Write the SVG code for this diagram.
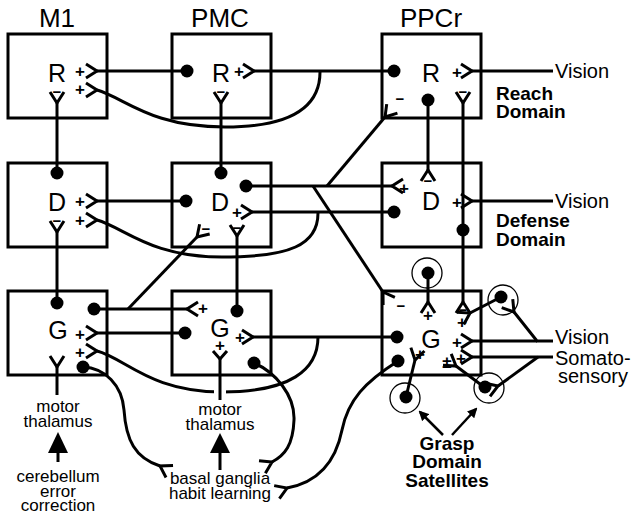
<svg xmlns="http://www.w3.org/2000/svg" width="641" height="519" viewBox="0 0 641 519">
<style>
.bx{fill:none;stroke:#000;stroke-width:3}
.ln{fill:none;stroke:#000;stroke-width:3}
.thin{fill:none;stroke:#000;stroke-width:1.3}
text{font-family:"Liberation Sans",Arial,Helvetica,sans-serif;fill:#000}
.ttl{font-size:26px;text-anchor:middle}
.let{font-size:25px;text-anchor:middle}
.sg{font-size:17px;font-weight:bold;text-anchor:middle}
.mn{font-size:15px;font-weight:bold;text-anchor:middle}
.lbl{font-size:20px}
.bold{font-size:19px;font-weight:bold}
.sm{font-size:17px;text-anchor:middle}
</style>
<defs>
<path id="fk" d="M-11,-7 L0,0 L-11,7" fill="none" stroke="#000" stroke-width="3"/>
<path id="fks" d="M-8,-7 L0,0 L-8,7" fill="none" stroke="#000" stroke-width="3"/>
<circle id="dt" r="6.5" fill="#000"/>
<marker id="ah" markerWidth="10" markerHeight="10" refX="8" refY="5" orient="auto" markerUnits="userSpaceOnUse"><path d="M0,0 L10,5 L0,10 Z" fill="#000"/></marker>
</defs>

<g id="titles">
<text class="ttl" x="57" y="27">M1</text>
<text class="ttl" x="220" y="27">PMC</text>
<text class="ttl" x="431" y="27">PPCr</text>
</g>

<g id="connectors">
<!-- row 1 -->
<line class="ln" x1="97" y1="71" x2="187" y2="71"/>
<path class="ln" d="M97,90 C125,98 150,127 225,127 C285,127 320,110 320,72"/>
<line class="ln" x1="254" y1="71" x2="394" y2="71"/>
<line class="ln" x1="472" y1="71" x2="553" y2="71"/>
<line class="ln" x1="57" y1="103" x2="57" y2="173"/>
<line class="ln" x1="221" y1="103" x2="221" y2="173"/>
<line class="ln" x1="428" y1="100" x2="428" y2="170"/>
<line class="ln" x1="463" y1="103" x2="463" y2="230"/>
<line class="ln" x1="385" y1="117" x2="327" y2="186"/>
<!-- row 2 -->
<line class="ln" x1="97" y1="201" x2="186" y2="201"/>
<path class="ln" d="M97,220 C125,228 150,257 222,257 C290,257 318,245 318,213"/>
<line class="ln" x1="246" y1="186" x2="392" y2="186"/>
<line class="ln" x1="252" y1="212" x2="394" y2="212"/>
<line class="ln" x1="313" y1="186" x2="383" y2="292"/>
<line class="ln" x1="197" y1="237" x2="128" y2="309"/>
<line class="ln" x1="57" y1="232" x2="57" y2="303"/>
<line class="ln" x1="237" y1="236" x2="237" y2="311"/>
<line class="ln" x1="472" y1="201" x2="553" y2="201"/>
<line class="ln" x1="463" y1="230" x2="463" y2="302"/>
<!-- row 3 -->
<line class="ln" x1="94" y1="309" x2="187" y2="309"/>
<line class="ln" x1="97" y1="333" x2="185" y2="333"/>
<path class="ln" d="M97,351 C125,358 150,392 222,392 C290,392 318,370 318,337"/>
<line stroke="#fff" stroke-width="12" x1="220" y1="384" x2="220" y2="399"/>
<line class="ln" x1="57" y1="367" x2="57" y2="395"/>
<line class="ln" x1="253" y1="337" x2="397" y2="337"/>
<line class="ln" x1="220" y1="359" x2="220" y2="400"/>
<path class="ln" d="M83,367 C105,368 122,385 124,410 C126,440 135,458 160,466"/>
<path class="ln" d="M254,363 C275,372 295,395 294,420 C293,445 285,455 272,462"/>
<path class="ln" d="M398,361 C365,382 348,400 342,430 C336,460 320,482 287,488"/>
<!-- PPCr G inputs -->
<line class="ln" x1="428" y1="273" x2="428" y2="302"/>
<line class="ln" x1="501" y1="297" x2="470" y2="313"/>
<polyline class="ln" points="514,312 537,341 553,341"/>
<line class="ln" x1="472" y1="341" x2="537" y2="341"/>
<line class="ln" x1="472" y1="357" x2="553" y2="357"/>
<polyline class="ln" points="498,386 538,357"/>
<line class="ln" x1="456" y1="366" x2="484" y2="387"/>
<line class="ln" x1="415" y1="360" x2="406" y2="397"/>
<!-- big arrows -->
<line class="ln" x1="58" y1="462" x2="58" y2="450"/>
<polygon points="58,432 48,453 68,453" fill="#000"/>
<line class="ln" x1="220" y1="470" x2="220" y2="450"/>
<polygon points="220,433 210,453 230,453" fill="#000"/>
<line stroke="#000" stroke-width="2.5" x1="443" y1="435" x2="420" y2="412" marker-end="url(#ah)"/>
<line stroke="#000" stroke-width="2.5" x1="452" y1="435" x2="476" y2="409" marker-end="url(#ah)"/>
<!-- forks -->
<use href="#fk" transform="translate(97,71)"/>
<use href="#fk" transform="translate(97,90)"/>
<use href="#fk" transform="translate(254,71)"/>
<use href="#fk" transform="translate(472,71)"/>
<use href="#fk" transform="translate(57,103) rotate(90)"/>
<use href="#fk" transform="translate(221,103) rotate(90)"/>
<use href="#fk" transform="translate(428,170) rotate(-90)"/>
<use href="#fk" transform="translate(463,103) rotate(90)"/>
<use href="#fk" transform="translate(385,117) rotate(130)"/>
<use href="#fk" transform="translate(97,201)"/>
<use href="#fk" transform="translate(97,220)"/>
<use href="#fk" transform="translate(392,186) rotate(180)"/>
<use href="#fk" transform="translate(252,212)"/>
<use href="#fk" transform="translate(383,292) rotate(-123)"/>
<use href="#fk" transform="translate(197,237) rotate(134)"/>
<use href="#fk" transform="translate(57,232) rotate(90)"/>
<use href="#fk" transform="translate(237,236) rotate(90)"/>
<use href="#fk" transform="translate(472,201)"/>
<use href="#fk" transform="translate(463,302) rotate(-90)"/>
<use href="#fk" transform="translate(187,309) rotate(180)"/>
<use href="#fk" transform="translate(97,333)"/>
<use href="#fk" transform="translate(97,351)"/>
<use href="#fk" transform="translate(57,367) rotate(90)"/>
<use href="#fk" transform="translate(253,337)"/>
<use href="#fks" transform="translate(220,359) rotate(90)"/>
<use href="#fk" transform="translate(160,466) rotate(-150)"/>
<use href="#fk" transform="translate(272,462) rotate(-27)"/>
<use href="#fk" transform="translate(287,488) rotate(-22)"/>
<use href="#fk" transform="translate(428,302) rotate(-90)"/>
<use href="#fk" transform="translate(470,313) rotate(-29)"/>
<use href="#fk" transform="translate(514,312) rotate(52)"/>
<use href="#fk" transform="translate(472,341)"/>
<use href="#fk" transform="translate(472,357)"/>
<use href="#fk" transform="translate(498,386) rotate(-20)"/>
<use href="#fk" transform="translate(456,366) rotate(36)"/>
<use href="#fk" transform="translate(415,360) rotate(104)"/>
<!-- dots -->
<use href="#dt" x="187" y="71"/>
<use href="#dt" x="394" y="71"/>
<use href="#dt" x="428" y="100"/>
<use href="#dt" x="57" y="173"/>
<use href="#dt" x="221" y="173"/>
<use href="#dt" x="186" y="201"/>
<use href="#dt" x="246" y="186"/>
<use href="#dt" x="394" y="212"/>
<use href="#dt" x="463" y="230"/>
<use href="#dt" x="57" y="303"/>
<use href="#dt" x="237" y="311"/>
<use href="#dt" x="94" y="309"/>
<use href="#dt" x="185" y="333"/>
<use href="#dt" x="83" y="367"/>
<use href="#dt" x="254" y="363"/>
<use href="#dt" x="397" y="337"/>
<use href="#dt" x="398" y="361"/>
</g>

<g id="m1-r"><rect class="bx" x="8" y="34" width="99" height="84"/><text class="let" x="57" y="82">R</text>
<text class="sg" x="80" y="77">+</text><text class="sg" x="80" y="95">+</text><text class="mn" x="57" y="97">−</text></g>
<g id="pmc-r"><rect class="bx" x="172" y="34" width="99" height="84"/><text class="let" x="221" y="82">R</text>
<text class="sg" x="239" y="77">+</text><text class="mn" x="221" y="97">−</text></g>
<g id="ppcr-r"><rect class="bx" x="382" y="34" width="99" height="84"/><text class="let" x="431" y="82">R</text>
<text class="sg" x="457" y="78">+</text><text class="mn" x="400" y="104">−</text><text class="mn" x="463" y="97">−</text></g>

<g id="m1-d"><rect class="bx" x="8" y="163" width="99" height="84"/><text class="let" x="57" y="211">D</text>
<text class="sg" x="80" y="207">+</text><text class="sg" x="80" y="226">+</text><text class="mn" x="57" y="226">−</text></g>
<g id="pmc-d"><rect class="bx" x="172" y="163" width="99" height="84"/><text class="let" x="220" y="211">D</text>
<text class="sg" x="237" y="218">+</text><text class="mn" x="206" y="234">−</text><text class="mn" x="237" y="233">−</text></g>
<g id="ppcr-d"><rect class="bx" x="382" y="163" width="99" height="84"/><text class="let" x="431" y="210">D</text>
<text class="sg" x="404" y="194">+</text><text class="sg" x="457" y="208">+</text><text class="mn" x="428" y="186">−</text></g>

<g id="m1-g"><rect class="bx" x="8" y="291" width="99" height="84"/><text class="let" x="58" y="339">G</text>
<text class="sg" x="80" y="340">+</text><text class="sg" x="80" y="358">+</text></g>
<g id="pmc-g"><rect class="bx" x="172" y="291" width="99" height="84"/><text class="let" x="220" y="337">G</text>
<text class="sg" x="203" y="314">+</text><text class="sg" x="240" y="343">+</text><text class="sg" x="220" y="351">+</text></g>
<g id="ppcr-g"><rect class="bx" x="382" y="291" width="99" height="84"/><text class="let" x="431" y="348">G</text>
<text class="mn" x="401" y="311">−</text><text class="sg" x="428" y="321">+</text><text class="mn" x="463" y="315">−</text>
<text class="sg" x="462" y="328">+</text><text class="sg" x="457" y="348">+</text><text class="sg" x="461" y="364">+</text>
<text class="sg" x="447" y="368">±</text><text class="sg" x="420" y="360">+</text></g>

<g id="satellites">
<g id="sat-a"><circle class="thin" cx="427" cy="273" r="15"/><circle r="6.5" cx="428" cy="273"/></g>
<g id="sat-b"><circle class="thin" cx="503" cy="300" r="15"/><circle r="6.5" cx="501" cy="297"/></g>
<g id="sat-c"><circle class="thin" cx="489" cy="388" r="15"/><circle r="6.5" cx="485" cy="387"/></g>
<g id="sat-d"><circle class="thin" cx="405" cy="398" r="15"/><circle r="6.5" cx="406" cy="397"/></g>
</g>

<g id="labels">
<text class="lbl" x="555" y="78">Vision</text>
<text class="bold" x="496" y="100">Reach</text>
<text class="bold" x="496" y="118">Domain</text>
<text class="lbl" x="555" y="208">Vision</text>
<text class="bold" x="496" y="227">Defense</text>
<text class="bold" x="496" y="246">Domain</text>
<text class="lbl" x="555" y="344">Vision</text>
<text class="lbl" x="555" y="365">Somato-</text>
<text class="lbl" x="558" y="383">sensory</text>
<text class="sm" x="58" y="412">motor</text>
<text class="sm" x="58" y="427">thalamus</text>
<text class="sm" x="58" y="482">cerebellum</text>
<text class="sm" x="58" y="497">error</text>
<text class="sm" x="58" y="511">correction</text>
<text class="sm" x="220" y="415">motor</text>
<text class="sm" x="220" y="430">thalamus</text>
<text class="sm" x="220" y="484">basal ganglia</text>
<text class="sm" x="220" y="499">habit learning</text>
<text class="bold" x="447" y="450" text-anchor="middle">Grasp</text>
<text class="bold" x="447" y="468" text-anchor="middle">Domain</text>
<text class="bold" x="447" y="487" text-anchor="middle">Satellites</text>
</g>
</svg>
